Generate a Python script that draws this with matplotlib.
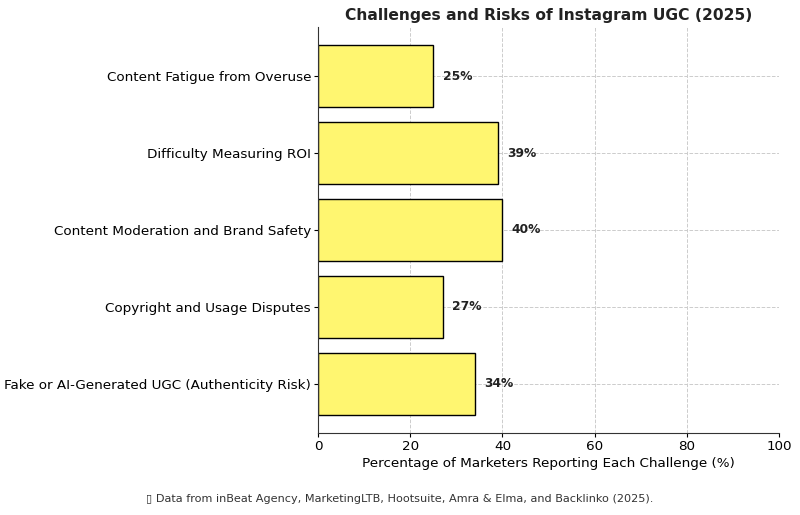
import matplotlib
matplotlib.use("Agg")
import matplotlib.pyplot as plt

categories = [
    "Fake or AI-Generated UGC (Authenticity Risk)",
    "Copyright and Usage Disputes",
    "Content Moderation and Brand Safety",
    "Difficulty Measuring ROI",
    "Content Fatigue from Overuse",
]
values = [34, 27, 40, 39, 25]
xticks = [0, 20, 40, 60, 80, 100]

fig, ax = plt.subplots(figsize=(8, 5.15), dpi=100)
fig.subplots_adjust(left=0.3975, right=0.974, top=0.9476, bottom=0.1592)

ax.barh(categories, values, height=0.8, color="#fff670", edgecolor="black", linewidth=1.0, zorder=2)
for i, v in enumerate(values):
    ax.text(v + 2, i, f"{v}%", va="center", ha="left", fontsize=8.8, fontweight="bold", color="#222222")

ax.set_xlim(0, 100)
ax.set_xticks(xticks)
ax.tick_params(axis="both", labelsize=9.7, length=3, pad=2)
ax.grid(True, linestyle="--", color="#cccccc", linewidth=0.7, zorder=0)
ax.set_axisbelow(True)
for s in ["top", "right"]:
    ax.spines[s].set_visible(False)
ax.spines["left"].set_color("#333333")
ax.spines["bottom"].set_color("#333333")

ax.set_xlabel("Percentage of Marketers Reporting Each Challenge (%)", fontsize=9.7, labelpad=3)
ax.set_title("Challenges and Risks of Instagram UGC (2025)", fontsize=11.2, fontweight="bold", color="#222222", pad=5)

fig.text(0.5, 0.031, "\u25AF Data from inBeat Agency, MarketingLTB, Hootsuite, Amra & Elma, and Backlinko (2025).",
         ha="center", va="center", fontsize=8.1, color="#333333")

fig.savefig("out.png", dpi=100)
